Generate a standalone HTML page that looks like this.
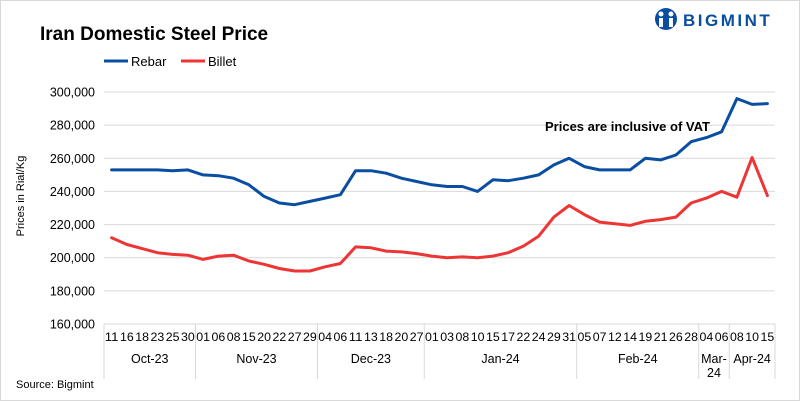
<!DOCTYPE html>
<html><head><meta charset="utf-8"><style>
body{margin:0;background:#fff;font-family:"Liberation Sans",sans-serif;}
#wrap{position:relative;width:800px;height:401px;overflow:hidden;background:#fff;}
</style></head><body>
<div id="wrap">
<svg id="chart" width="800" height="401" xmlns="http://www.w3.org/2000/svg">
<rect x="0.5" y="0.5" width="799" height="400" fill="#fff" stroke="#d9d9d9"/>
<text x="40" y="40" font-size="19" font-weight="bold" fill="#000">Iran Domestic Steel Price</text>
<g>
<g><line x1="104" y1="61" x2="128" y2="61" stroke="#0a4ea2" stroke-width="3"/><text x="131" y="66" font-size="13" fill="#000">Rebar</text></g>
<g><line x1="181" y1="61" x2="205" y2="61" stroke="#ee3535" stroke-width="3"/><text x="208" y="66" font-size="13" fill="#000">Billet</text></g>
</g>
<g>
<circle cx="666" cy="19" r="11" fill="#0a4ea2"/>
<circle cx="661" cy="14" r="2.5" fill="#fff"/><circle cx="671" cy="14" r="2.5" fill="#fff"/>
<rect x="659" y="18" width="4" height="9" fill="#fff"/><rect x="669" y="18" width="4" height="9" fill="#fff"/>
<text x="683" y="26" font-size="17" font-weight="bold" fill="#0a4ea2" letter-spacing="2.5">BIGMINT</text>
</g>
<text transform="translate(24,196) rotate(-90)" text-anchor="middle" font-size="11" fill="#000">Prices in Rial/Kg</text>
<g id="grid"></g><g id="yt"></g><g id="xt"></g><g id="lines"></g>
<text x="545" y="131" font-size="13" font-weight="bold" fill="#000">Prices are inclusive  of VAT</text>
<text x="16" y="388" font-size="11" fill="#000">Source: Bigmint</text>
</svg>
</div>
<script>
const days=["11","16","18","23","25","30","01","06","08","15","20","22","27","29","04","06","11","13","18","20","27","01","03","08","10","15","17","22","24","29","31","05","07","12","14","19","21","26","28","04","06","08","10","15"];
const months=["Oct-23","Nov-23","Dec-23","Jan-24","Feb-24","Mar-24","Apr-24"];
const monthCounts=[6,8,7,10,8,2,3];
const rebar=[253000,253000,253000,253000,252500,253000,250000,249500,248000,244000,237000,233000,232000,234000,236000,238000,252500,252500,251000,248000,246000,244000,243000,243000,240000,247000,246500,248000,250000,256000,260000,255000,253000,253000,253000,260000,259000,262000,270000,272500,276000,296000,292500,293000];
const billet=[212000,208000,205500,203000,202000,201500,199000,201000,201500,198000,196000,193500,192000,192000,194500,196500,206500,206000,204000,203500,202500,201000,200000,200500,200000,201000,203000,207000,213000,224500,231500,226000,221500,220500,219500,222000,223000,224500,233000,236000,240000,236500,260500,237500];
const yTicks=[160000,180000,200000,220000,240000,260000,280000,300000];
const NS="http://www.w3.org/2000/svg";
const x0=104,x1=775,yTop=92,yBot=324,yMin=160000,yMax=300000;
const step=(x1-x0)/days.length;
const X=i=>x0+step*(i+0.5);
const Y=v=>yBot-(v-yMin)/(yMax-yMin)*(yBot-yTop);
function mk(t,a,p){const e=document.createElementNS(NS,t);for(const k in a)e.setAttribute(k,a[k]);p.appendChild(e);return e;}
const grid=document.getElementById('grid'),yt=document.getElementById('yt'),xt=document.getElementById('xt'),lines=document.getElementById('lines');
yTicks.forEach(v=>{
 const g=mk('line',{x1:x0,x2:x1,y1:Y(v),y2:Y(v),stroke:'#d9d9d9','stroke-width':1},grid);
 
 
 const t=mk('text',{x:x0-9,y:Y(v)+4.5,'text-anchor':'end','font-size':12.5,fill:'#000'},yt);
 t.textContent=v.toLocaleString('en-US');
 
 
});
days.forEach((d,i)=>{
 const t=mk('text',{x:X(i),y:341,'text-anchor':'middle','font-size':11.5,fill:'#000','textLength':step-1.5,'lengthAdjust':'spacingAndGlyphs'},xt);
 t.textContent=d;
 
 
});
let c=0;
const sep=i=>{const l=mk('line',{x1:x0+step*i,x2:x0+step*i,y1:324,y2:379,stroke:'#d9d9d9'},xt);
 
 };
sep(0);
monthCounts.forEach((n,m)=>{
 const cx=x0+step*(c+n/2);
 const lab=months[m];
 if(n<3){
  const parts=lab.split('-');
  const t1=mk('text',{x:cx,y:363,'text-anchor':'middle','font-size':12.5,fill:'#000'},xt);t1.textContent=parts[0]+'-';
  
  
  const t2=mk('text',{x:cx,y:377,'text-anchor':'middle','font-size':12.5,fill:'#000'},xt);t2.textContent=parts[1];
  
  
 }else{
  const t=mk('text',{x:cx,y:363,'text-anchor':'middle','font-size':12.5,fill:'#000'},xt);t.textContent=lab;
  
  
 }
 c+=n;sep(c);
});
mk('line',{x1:x0,x2:x1,y1:324,y2:324,stroke:'#d9d9d9'},xt);
function series(data,color,name){
 const p=mk('path',{d:data.map((v,i)=>(i?'L':'M')+X(i).toFixed(1)+' '+Y(v).toFixed(1)).join(' '),fill:'none',stroke:color,'stroke-width':3,'stroke-linejoin':'round','stroke-linecap':'round'},lines);
 
 
}
series(rebar,'#0a4ea2','rebar-line');
series(billet,'#ee3535','billet-line');
</script>
</body></html>
